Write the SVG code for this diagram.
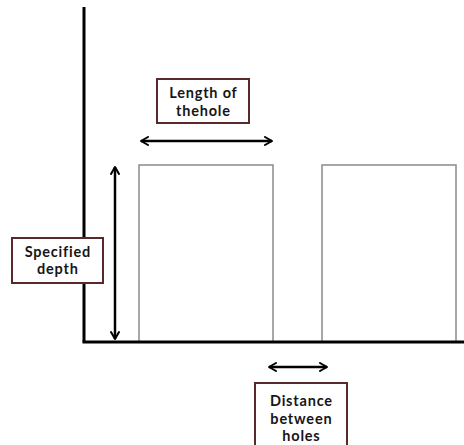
<svg xmlns="http://www.w3.org/2000/svg" width="464" height="445" viewBox="0 0 464 445">
  <style>
    .axis { stroke: #000; stroke-width: 3; fill: none; }
    .hole { stroke: #8a8a8a; stroke-width: 1.5; fill: #fff; }
    .dim { stroke: #000; stroke-width: 2.5; fill: none; marker-start: url(#head); marker-end: url(#head); }
    .label rect { fill: #fff; stroke: #5a2a2a; stroke-width: 2; }
    .label text { font-family: Lato, "Open Sans", "Liberation Sans", sans-serif; font-size: 14.5px; font-weight: 700; letter-spacing: 0.8px; fill: #161616; text-anchor: middle; }
  </style>
  <defs>
    <marker id="head" viewBox="0 0 10 10" refX="9" refY="5" markerWidth="4" markerHeight="4" orient="auto-start-reverse" markerUnits="strokeWidth">
      <polyline points="2,1 9,5 2,9" fill="none" stroke="#000" stroke-width="2" stroke-linecap="round" stroke-linejoin="round"/>
    </marker>
  </defs>
  <rect width="464" height="445" fill="#fff"/>

  <!-- holes -->
  <g id="hole-1"><rect class="hole" x="139" y="165" width="134" height="177"/></g>
  <g id="hole-2"><rect class="hole" x="322" y="165" width="134" height="177"/></g>

  <!-- axes -->
  <g id="axes">
    <line class="axis" x1="84" y1="7" x2="84" y2="342"/>
    <line class="axis" x1="82.5" y1="342" x2="464" y2="342"/>
  </g>

  <!-- dimension connectors -->
  <g id="connectors">
    <line class="dim" x1="141" y1="141" x2="272" y2="141"/>
    <line class="dim" x1="115" y1="167" x2="115" y2="339"/>
    <line class="dim" x1="269" y1="367" x2="327" y2="367"/>
  </g>

  <!-- labels -->
  <g id="label-length" class="label">
    <rect x="157" y="79" width="92" height="44"/>
    <text x="203.4" y="98">Length of</text>
    <text x="203.4" y="115.5">thehole</text>
  </g>
  <g id="label-depth" class="label">
    <rect x="12" y="238" width="91" height="45"/>
    <text x="57.9" y="256.5">Specified</text>
    <text x="57.9" y="274">depth</text>
  </g>
  <g id="label-distance" class="label">
    <rect x="255" y="383" width="92" height="66"/>
    <text x="301.4" y="406">Distance</text>
    <text x="301.4" y="423.5">between</text>
    <text x="301.4" y="441">holes</text>
  </g>
</svg>
